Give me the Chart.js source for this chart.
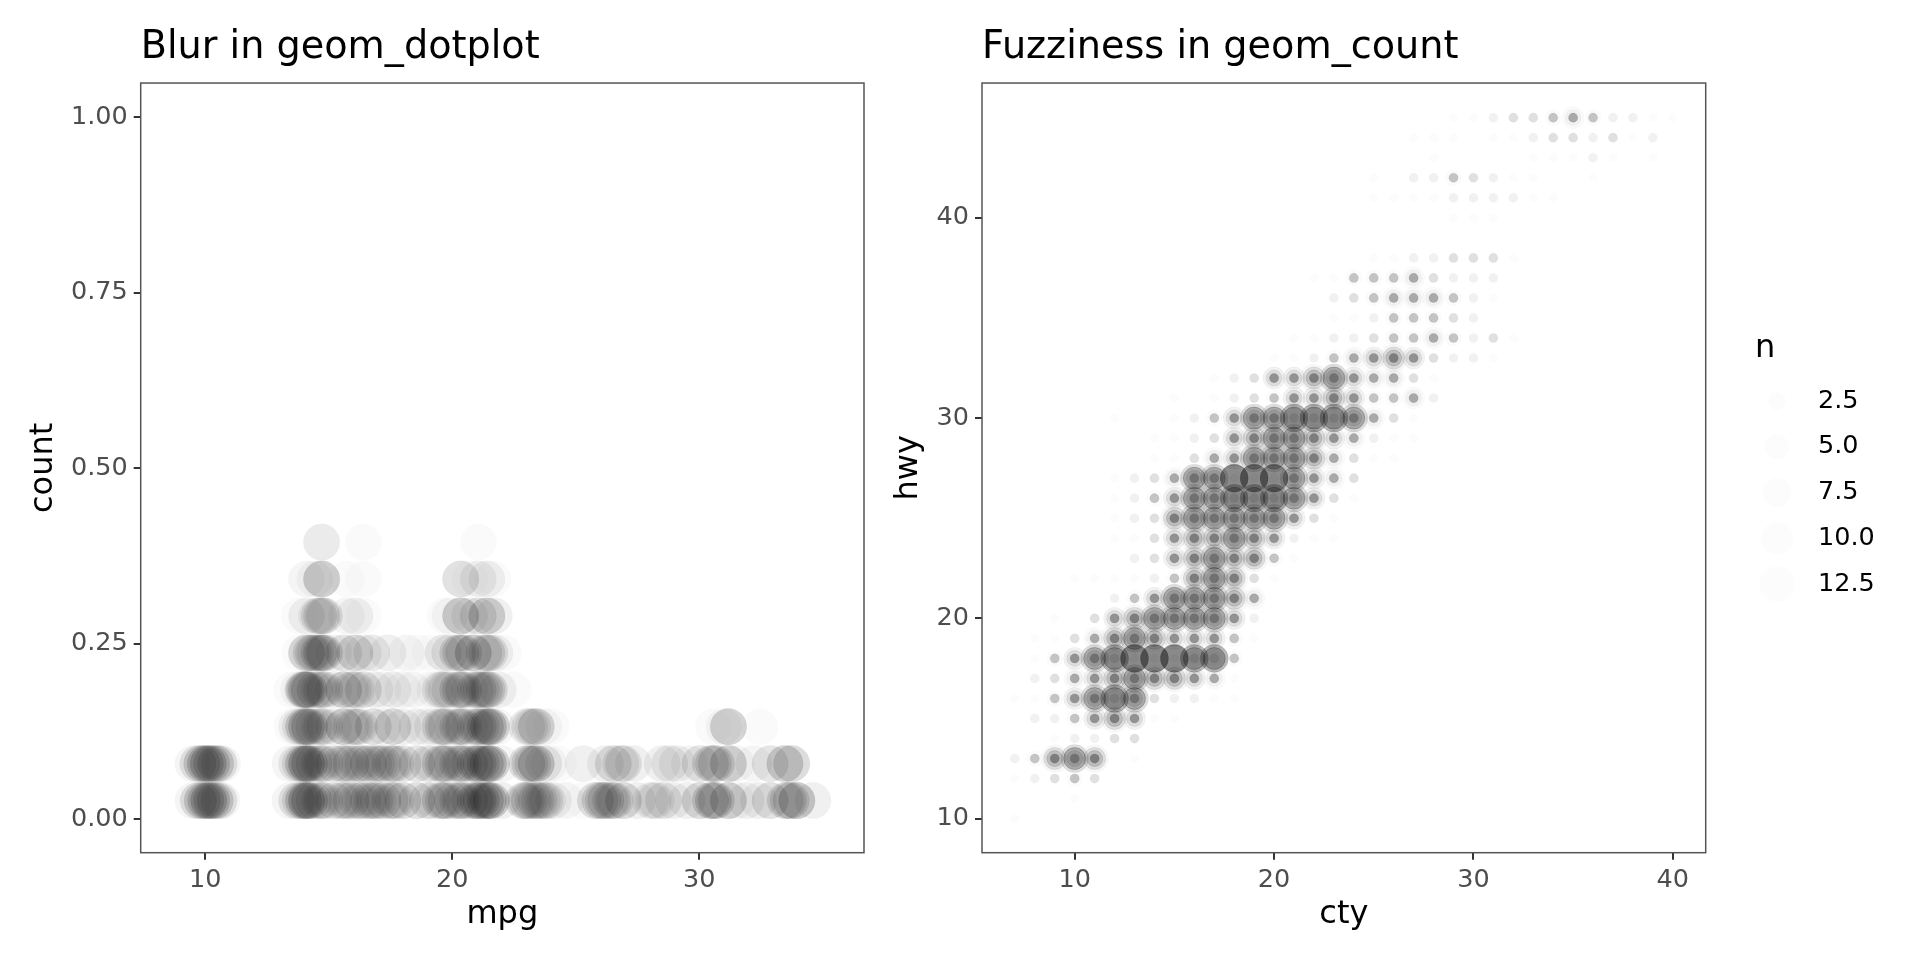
<!DOCTYPE html>
<html>
<head>
<meta charset="utf-8">
<title>Blur and fuzziness</title>
<script src="https://cdn.jsdelivr.net/npm/chart.js@4"></script>
<style>
  html, body { margin: 0; padding: 0; background: #fff; }
  canvas { position: absolute; }
</style>
</head>
<body>
<canvas id="dotplotChart" width="870" height="960" style="left:0;top:0"></canvas>
<canvas id="countChart" width="850" height="960" style="left:870px;top:0"></canvas>
<canvas id="legendChart" width="165" height="280" style="left:1755px;top:321px"></canvas>
<script>
// ─── Data: dotplot (each row is one stack height, pairs are [mpg, overlaid replicates]) ───

var countTicks = [0, 0.25, 0.5, 0.75, 1];
var mpgTicks = [10, 20, 30];
var stackHeights = [0.0263, 0.0789, 0.1316, 0.1842, 0.2368, 0.2895, 0.3421, 0.3947];

var stack0 = [[9.5, 2], [9.72, 6], [9.88, 8], [10.02, 8], [10.14, 10], [10.26, 8], [10.4, 8], [10.55, 5], [10.68, 2],
  [13.43, 2], [13.7, 5], [13.85, 5], [13.98, 9], [14.1, 12], [14.22, 9], [14.4, 5], [14.6, 4], [14.71, 5], [14.84, 4],
  [15.2, 5], [15.48, 4], [15.6, 4], [15.72, 4], [15.9, 6], [16.14, 4], [16.26, 4], [16.38, 4], [16.6, 6], [16.75, 5], [16.87, 5], [17, 4],
  [17.2, 6], [17.48, 5], [17.6, 5], [17.72, 4], [18, 6], [18.56, 6], [19, 5], [19.2, 3], [19.51, 6], [19.63, 6], [19.75, 6], [20, 5],
  [20.22, 5], [20.34, 6], [20.46, 5], [20.7, 5], [20.93, 8], [21.05, 8], [21.17, 8], [21.34, 9], [21.46, 10], [21.58, 9], [22, 3],
  [22.88, 6], [23, 6], [23.12, 6], [23.28, 5], [23.4, 6], [23.52, 5], [23.65, 4], [23.75, 4], [23.85, 4], [24.1, 3], [24.6, 2], [25.3, 1],
  [25.8, 6], [25.98, 6], [26.1, 6], [26.22, 6], [26.4, 5], [26.5, 5], [26.6, 4], [26.93, 7], [27.5, 3],
  [28.02, 3], [28.14, 3], [28.26, 3], [28.55, 5], [28.95, 3], [29.5, 3], [30.03, 7], [30.45, 7], [30.57, 8], [30.69, 7], [31.18, 9], [31.5, 2],
  [31.9, 3], [32.4, 3], [32.87, 6], [33.48, 6], [33.6, 6], [33.72, 6], [33.95, 11], [34.6, 3]];
var stack1 = [[9.5, 2], [9.7, 5], [9.86, 8], [10, 9], [10.12, 10], [10.26, 8], [10.42, 8], [10.56, 5], [10.7, 2],
  [13.43, 2], [13.7, 4], [13.85, 5], [13.98, 9], [14.1, 12], [14.22, 9], [14.4, 5], [14.6, 4], [14.71, 5], [14.84, 4],
  [15.2, 5], [15.48, 4], [15.6, 4], [15.72, 4], [15.9, 6], [16.14, 4], [16.26, 4], [16.38, 4], [16.6, 6], [16.82, 4], [16.94, 4], [17.06, 4],
  [17.2, 5], [17.48, 5], [17.6, 5], [17.72, 4], [18, 5], [18.56, 5], [19, 4], [19.2, 3], [19.51, 6], [19.63, 6], [19.75, 6], [20, 4],
  [20.22, 5], [20.34, 6], [20.46, 5], [20.7, 5], [20.93, 7], [21.05, 7], [21.17, 6], [21.34, 8], [21.46, 10], [21.58, 8], [22, 2],
  [23.02, 6], [23.14, 6], [23.26, 6], [23.4, 10], [23.7, 4], [23.9, 2], [24.3, 1], [25.3, 3],
  [26.2, 3], [26.52, 6], [26.82, 4], [26.93, 5], [27.33, 3], [28.5, 3], [28.8, 4], [29.1, 3], [29.6, 2], [30.03, 5],
  [30.45, 6], [30.57, 6], [30.69, 6], [31.18, 9], [31.5, 2], [32.2, 2], [32.87, 5], [33.47, 9], [33.74, 7]];
var stack2 = [[13.5, 1], [13.7, 3], [13.85, 4], [13.98, 8], [14.1, 10], [14.22, 8], [14.4, 4], [14.6, 4], [14.71, 4], [14.84, 4],
  [15.2, 3], [15.6, 9], [15.9, 4], [16.03, 4], [16.13, 4], [16.25, 4], [16.8, 6], [17.2, 3], [17.6, 7], [18, 3], [18.56, 3], [18.9, 2], [19.2, 3],
  [19.51, 5], [19.63, 6], [19.75, 5], [20, 3], [20.22, 5], [20.34, 6], [20.46, 5], [20.7, 3], [20.93, 5], [21.05, 6], [21.17, 5],
  [21.34, 8], [21.46, 10], [21.58, 8], [21.8, 2], [23.02, 4], [23.14, 4], [23.26, 4], [23.4, 8], [23.7, 2], [24, 1],
  [30.57, 1], [31, 2], [31.18, 9], [32.46, 1]];
var stack3 = [[13.5, 1], [13.77, 2], [13.95, 6], [14.02, 8], [14.1, 8], [14.2, 8], [14.44, 6], [14.6, 4], [14.71, 5], [14.84, 5],
  [15.2, 3], [15.6, 8], [15.88, 4], [16, 4], [16.12, 4], [16.4, 6], [16.87, 3], [17.2, 2], [17.6, 3], [18, 2], [18.4, 2], [19, 1], [19.3, 2],
  [19.51, 4], [19.63, 4], [19.75, 4], [19.9, 4], [20.22, 6], [20.34, 6], [20.46, 6], [20.7, 3], [20.93, 5], [21.05, 6], [21.17, 5],
  [21.3, 6], [21.4, 6], [21.5, 6], [21.86, 3], [22.47, 1]];
var stack4 = [[13.83, 1], [14.1, 8], [14.28, 5], [14.37, 5], [14.46, 4], [14.6, 7], [14.71, 8], [14.82, 7],
  [15.2, 2], [15.6, 5], [16.06, 7], [16.4, 3], [16.74, 4], [17.4, 3], [18.15, 2], [18.6, 1], [19.1, 1], [19.63, 4], [19.9, 4],
  [20.22, 6], [20.34, 6], [20.46, 6], [20.85, 10], [21.28, 5], [21.4, 6], [21.52, 5], [21.73, 3], [22.07, 1]];
var stack5 = [[13.8, 1], [14.1, 3], [14.5, 3], [14.6, 5], [14.71, 6], [14.82, 5], [15.72, 2], [16.06, 3], [16.4, 1],
  [19.7, 1], [19.9, 2], [20.34, 10], [20.7, 3], [21.05, 5], [21.4, 9], [21.7, 3]];
var stack6 = [[14.1, 2], [14.44, 2], [14.71, 10], [15.72, 1], [16.4, 1], [20.34, 6], [20.7, 1], [21.05, 3], [21.4, 3], [21.66, 1]];
var stack7 = [[14.71, 4], [16.4, 1], [21.06, 1]];

var stackRows = [stack0, stack1, stack2, stack3, stack4, stack5, stack6, stack7];

// ─── Data: count plot (each row is one hwy value, pairs are [cty, darkness level 1-10]) ───

var ctyTicks = [10, 20, 30, 40];
var hwyTicks = [10, 20, 30, 40];
var legendValues = [2.5, 5, 7.5, 10, 12.5];

var hwy10 = [[7, 1]];
var hwy11 = [[10, 1]];
var hwy12 = [[7, 1], [8, 2], [9, 3], [10, 4], [11, 3]];
var hwy13 = [[7, 2], [8, 4], [9, 7], [10, 8], [11, 7], [13, 1]];
var hwy14 = [[9, 1], [10, 2], [11, 2], [12, 3], [13, 3]];
var hwy15 = [[8, 2], [9, 2], [10, 4], [11, 6], [12, 7], [13, 6], [14, 1], [15, 1]];
var hwy16 = [[7, 1], [8, 1], [9, 4], [10, 6], [11, 8], [12, 9], [13, 8], [14, 3], [15, 2], [16, 2], [17, 1], [18, 1]];
var hwy17 = [[8, 2], [9, 3], [10, 5], [11, 6], [12, 7], [13, 8], [14, 7], [15, 7], [16, 6], [17, 5], [18, 1]];
var hwy18 = [[8, 1], [9, 4], [10, 6], [11, 8], [12, 9], [13, 10], [14, 10], [15, 10], [16, 9], [17, 9], [18, 4]];
var hwy19 = [[8, 1], [9, 1], [10, 3], [11, 5], [12, 7], [13, 8], [14, 7], [15, 6], [16, 6], [17, 6], [18, 4], [19, 1]];
var hwy20 = [[9, 1], [11, 3], [12, 6], [13, 7], [14, 8], [15, 8], [16, 8], [17, 8], [18, 6], [19, 2]];
var hwy21 = [[12, 2], [13, 4], [14, 6], [15, 8], [16, 8], [17, 8], [18, 7], [19, 5]];
var hwy22 = [[10, 1], [11, 1], [12, 1], [13, 1], [14, 2], [15, 4], [16, 7], [17, 8], [18, 7], [19, 3], [20, 1]];
var hwy23 = [[13, 2], [14, 3], [15, 6], [16, 7], [17, 8], [18, 7], [19, 7], [20, 4], [21, 1]];
var hwy24 = [[12, 1], [13, 1], [14, 3], [15, 6], [16, 7], [17, 7], [18, 8], [19, 7], [20, 6], [21, 2], [22, 1], [23, 1]];
var hwy25 = [[12, 1], [13, 2], [14, 3], [15, 7], [16, 8], [17, 8], [18, 8], [19, 8], [20, 8], [21, 6], [22, 3], [23, 1]];
var hwy26 = [[12, 1], [13, 2], [14, 4], [15, 6], [16, 8], [17, 8], [18, 9], [19, 9], [20, 9], [21, 8], [22, 6], [23, 3], [24, 1]];
var hwy27 = [[12, 1], [13, 2], [14, 3], [15, 5], [16, 8], [17, 8], [18, 10], [19, 10], [20, 10], [21, 8], [22, 6], [23, 5], [24, 3]];
var hwy28 = [[14, 1], [15, 1], [16, 3], [17, 5], [18, 6], [19, 8], [20, 8], [21, 8], [22, 7], [23, 5], [24, 3], [25, 1], [26, 1]];
var hwy29 = [[14, 1], [15, 1], [16, 2], [17, 3], [18, 6], [19, 7], [20, 8], [21, 8], [22, 7], [23, 6], [24, 5], [25, 2], [26, 1], [27, 1]];
var hwy30 = [[12, 1], [15, 1], [16, 2], [17, 4], [18, 6], [19, 8], [20, 8], [21, 9], [22, 9], [23, 9], [24, 8], [25, 5], [26, 3], [27, 1]];
var hwy31 = [[15, 1], [17, 1], [18, 2], [19, 3], [20, 4], [21, 6], [22, 6], [23, 7], [24, 6], [25, 4], [26, 4], [27, 5], [28, 2]];
var hwy32 = [[17, 1], [18, 2], [19, 3], [20, 6], [21, 6], [22, 7], [23, 8], [24, 6], [25, 5], [26, 5], [27, 3], [28, 1]];
var hwy33 = [[20, 1], [21, 1], [22, 2], [23, 4], [24, 5], [25, 6], [26, 7], [27, 6], [28, 3], [29, 2], [30, 2], [31, 1]];
var hwy34 = [[21, 1], [22, 1], [23, 2], [24, 2], [25, 3], [26, 4], [27, 4], [28, 5], [29, 4], [30, 2], [31, 3], [32, 1]];
var hwy35 = [[23, 1], [24, 1], [25, 2], [26, 4], [27, 4], [28, 4], [29, 3], [30, 2]];
var hwy36 = [[23, 2], [24, 3], [25, 4], [26, 5], [27, 5], [28, 5], [29, 4], [30, 2], [31, 1]];
var hwy37 = [[22, 1], [23, 1], [24, 4], [25, 4], [26, 4], [27, 5], [28, 3], [29, 2], [30, 2], [31, 2]];
var hwy38 = [[25, 1], [26, 1], [27, 2], [28, 2], [29, 3], [30, 3], [31, 3], [32, 1]];
var hwy40 = [[29, 1], [30, 1], [31, 1]];
var hwy41 = [[25, 1], [26, 1], [27, 1], [28, 1], [29, 2], [30, 2], [31, 2], [32, 2], [33, 1], [34, 1]];
var hwy42 = [[25, 1], [27, 2], [28, 2], [29, 4], [30, 3], [31, 2], [32, 1], [33, 1], [36, 1]];
var hwy43 = [[28, 1], [33, 1], [34, 1], [35, 1], [36, 2], [37, 1], [39, 1]];
var hwy44 = [[27, 1], [28, 1], [29, 1], [31, 1], [32, 1], [33, 2], [34, 3], [35, 3], [36, 2], [37, 3], [38, 1], [39, 2]];
var hwy45 = [[29, 1], [30, 1], [31, 2], [32, 3], [33, 3], [34, 4], [35, 5], [36, 4], [37, 2], [38, 2], [39, 1], [40, 1]];

var hwyValues = [10, 11, 12, 13, 14, 15, 16, 17, 18, 19, 20, 21, 22, 23, 24, 25, 26, 27, 28, 29, 30, 31, 32, 33, 34, 35, 36, 37, 38, 40, 41, 42, 43, 44, 45];
var hwyRows = [hwy10, hwy11, hwy12, hwy13, hwy14, hwy15, hwy16, hwy17, hwy18, hwy19, hwy20, hwy21, hwy22, hwy23, hwy24, hwy25, hwy26, hwy27, hwy28, hwy29, hwy30, hwy31, hwy32, hwy33, hwy34, hwy35, hwy36, hwy37, hwy38, hwy40, hwy41, hwy42, hwy43, hwy44, hwy45];

// ─── Styles ───

Chart.defaults.font.family = '"DejaVu Sans", sans-serif';
Chart.defaults.animation = false;
Chart.defaults.responsive = false;
Chart.defaults.plugins.legend.display = false;
Chart.defaults.plugins.tooltip.enabled = false;

// Disc radius, rim strength and opacity per darkness level (index 0 = level 1)
var ringStyles = [
  { radius: 14, rim: 0.3, alpha: [0, 0, 0, 0, 0, 0, 0.03, 0.13, 0.28, 0.45] },
  { radius: 11, rim: 0.8, alpha: [0, 0, 0, 0, 0.02, 0.05, 0.1, 0.24, 0.25, 0.01] },
  { radius: 8, rim: 0.8, alpha: [0, 0, 0, 0.015, 0.04, 0.09, 0.15, 0.1, 0.03, 0.01] },
  { radius: 4.6, rim: 0.3, alpha: [0.012, 0.055, 0.12, 0.22, 0.3, 0.34, 0.34, 0.26, 0.1, 0.04] },
];

function black(alpha) {
  return "rgba(0, 0, 0, " + alpha + ")";
}

var panelBorder = {
  id: "panelBorder",
  afterDatasetsDraw: function (chart) {
    var a = chart.chartArea;
    var ctx = chart.ctx;
    ctx.save();
    ctx.strokeStyle = "#555";
    ctx.lineWidth = 1.5;
    ctx.strokeRect(a.left, a.top, a.right - a.left, a.bottom - a.top);
    ctx.restore();
  },
};

function panelScale(opts) {
  return {
    type: "linear",
    position: opts.position,
    min: opts.min,
    max: opts.max,
    afterBuildTicks: function (axis) {
      axis.ticks = opts.ticks.map(function (v) { return { value: v }; });
    },
    afterFit: function (axis) {
      if (opts.position === "left") axis.width = opts.size;
      else axis.height = opts.size;
    },
    border: { display: false },
    grid: { drawOnChartArea: false, color: "#333", lineWidth: 2, tickLength: 7 },
    ticks: {
      autoSkip: false,
      maxRotation: 0,
      color: "#4D4D4D",
      padding: opts.tickPadding,
      font: { size: 25.5 },
      callback: opts.format,
    },
    title: {
      display: true,
      text: opts.title,
      color: "#000",
      font: { size: 32 },
      padding: opts.titlePadding,
    },
  };
}

function panelTitle(text) {
  return {
    display: true,
    text: text,
    align: "start",
    fullSize: false,
    color: "#000",
    font: { size: 38.2, weight: "normal" },
    padding: { top: 25.5, bottom: 11.7 },
  };
}

// ─── Chart Rendering ───

function renderDotplot() {
  var points = [];
  stackRows.forEach(function (row, r) {
    row.forEach(function (pair) {
      points.push({ x: pair[0], y: stackHeights[r], n: pair[1] });
    });
  });

  new Chart(document.getElementById("dotplotChart"), {
    type: "scatter",
    data: {
      datasets: [
        {
          data: points,
          pointRadius: 18.2,
          borderWidth: 1,
          backgroundColor: function (c) { return black(1 - Math.pow(0.98, c.raw ? c.raw.n : 1)); },
          borderColor: function (c) { return black((1 - Math.pow(0.98, c.raw ? c.raw.n : 1)) * 0.3); },
        },
      ],
    },
    options: {
      layout: { autoPadding: false, padding: { right: 6 } },
      plugins: { title: panelTitle("Blur in geom_dotplot") },
      scales: {
        x: panelScale({
          position: "bottom", min: 7.385, max: 36.67, ticks: mpgTicks, size: 107.3, tickPadding: 5,
          title: "mpg", titlePadding: { top: 0, bottom: 26.3 },
          format: function (v) { return String(v); },
        }),
        y: panelScale({
          position: "left", min: -0.048, max: 1.049, ticks: countTicks, size: 140.7, tickPadding: 6,
          title: "count", titlePadding: { top: 24.8, bottom: 0 },
          format: function (v) { return v.toFixed(2); },
        }),
      },
    },
    plugins: [panelBorder],
  });
}

function renderCountPlot() {
  var cells = [];
  hwyRows.forEach(function (row, r) {
    row.forEach(function (pair) {
      cells.push({ x: pair[0], y: hwyValues[r], n: pair[1] });
    });
  });

  var datasets = ringStyles.map(function (ring) {
    return {
      data: cells,
      pointRadius: ring.radius,
      borderWidth: 1,
      backgroundColor: function (c) { return black(c.raw ? ring.alpha[c.raw.n - 1] : 0); },
      borderColor: function (c) { return black(c.raw ? ring.alpha[c.raw.n - 1] * ring.rim : 0); },
    };
  });
  // The library paints the first dataset on top, so the small discs go first
  datasets.reverse();

  new Chart(document.getElementById("countChart"), {
    type: "scatter",
    data: { datasets: datasets },
    options: {
      layout: { autoPadding: false, padding: { right: 14.3 } },
      plugins: { title: panelTitle("Fuzziness in geom_count") },
      scales: {
        x: panelScale({
          position: "bottom", min: 5.35, max: 41.65, ticks: ctyTicks, size: 107.3, tickPadding: 5,
          title: "cty", titlePadding: { top: 0, bottom: 26.3 },
          format: function (v) { return String(v); },
        }),
        y: panelScale({
          position: "left", min: 8.3, max: 46.73, ticks: hwyTicks, size: 112, tickPadding: 6,
          title: "hwy", titlePadding: { top: 19.4, bottom: 0 },
          format: function (v) { return String(v); },
        }),
      },
    },
    plugins: [panelBorder],
  });
}

function renderLegend() {
  new Chart(document.getElementById("legendChart"), {
    type: "scatter",
    data: {
      datasets: [
        {
          data: legendValues.map(function (v) { return { x: 0, y: v }; }),
          clip: false,
          backgroundColor: "rgba(0, 0, 0, 0.012)",
          borderWidth: 0,
          pointRadius: function (c) {
            var n = c.raw ? c.raw.y : 1;
            return 4.2 + 13.6 * Math.sqrt((n - 1) / 11.5);
          },
        },
      ],
    },
    options: {
      layout: { autoPadding: false },
      plugins: {
        title: {
          display: true,
          text: "n",
          align: "start",
          color: "#000",
          font: { size: 32, weight: "normal" },
          padding: { top: 8.5, bottom: 11.1 },
        },
      },
      scales: {
        x: { display: false, min: -1, max: 1 },
        y: {
          position: "right",
          reverse: true,
          min: 1.298,
          max: 13.43,
          afterBuildTicks: function (axis) {
            axis.ticks = legendValues.map(function (v) { return { value: v }; });
          },
          afterFit: function (axis) {
            axis.width = 121;
            axis.paddingTop = 0;
            axis.paddingBottom = 0;
          },
          border: { display: false },
          grid: { display: false, drawTicks: false },
          ticks: {
            autoSkip: false,
            color: "#000",
            padding: 19,
            font: { size: 25.5 },
            callback: function (v) { return v.toFixed(1); },
          },
        },
      },
    },
  });
}

// ─── Init ───

renderDotplot();
renderCountPlot();
renderLegend();
</script>
</body>
</html>
